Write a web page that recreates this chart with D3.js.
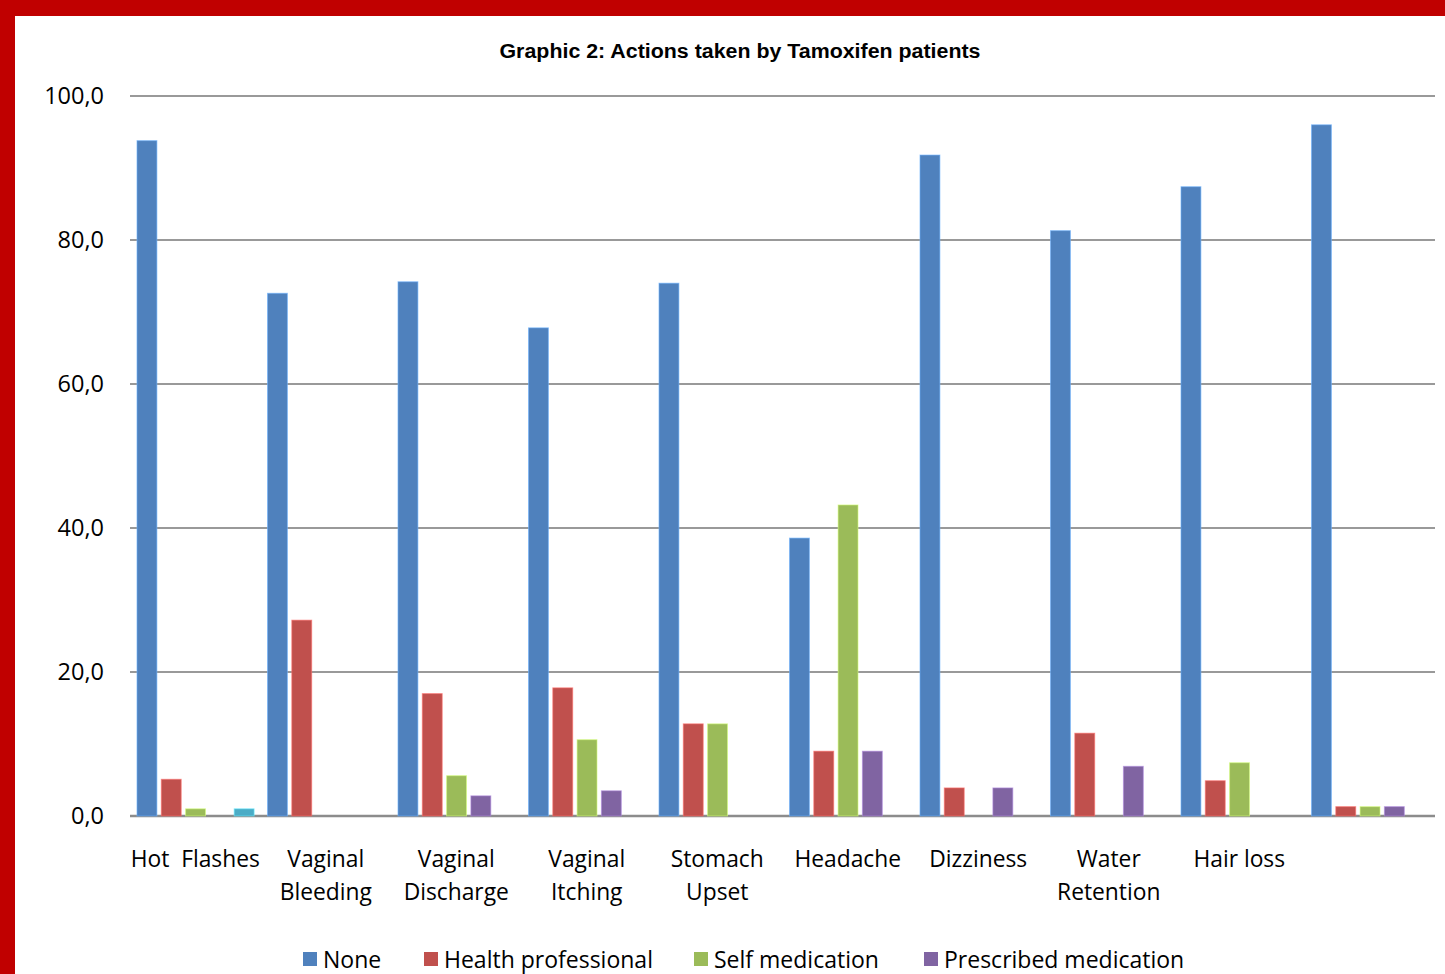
<!DOCTYPE html>
<html>
<head>
<meta charset="utf-8">
<script src="https://cdn.jsdelivr.net/npm/d3@7"></script>
<style>
  html, body { margin: 0; padding: 0; background: #fff; }
  svg { display: block; }
</style>
</head>
<body>
<svg id="chart" width="1445" height="974"></svg>
<script>
const categories = [
  ["Hot  Flashes"],
  ["Vaginal", "Bleeding"],
  ["Vaginal", "Discharge"],
  ["Vaginal", "Itching"],
  ["Stomach", "Upset"],
  ["Headache"],
  ["Dizziness"],
  ["Water", "Retention"],
  ["Hair loss"],
  [""]
];
const seriesNames = ["None", "Health professional", "Self medication", "Prescribed medication", ""];
const seriesColors = ["#4F81BD", "#C0504D", "#9BBB59", "#8064A2", "#4BACC6"];
const noneValues        = [93.8, 72.6, 74.2, 67.8, 74.0, 38.6, 91.8, 81.3, 87.4, 96.0];
const healthProfValues  = [5.1, 27.2, 17.0, 17.8, 12.8, 9.0, 3.9, 11.5, 4.9, 1.3];
const selfMedValues     = [1.0, 0, 5.6, 10.6, 12.8, 43.2, 0, 0, 7.4, 1.3];
const prescribedValues  = [0, 0, 2.8, 3.5, 0, 9.0, 3.9, 6.9, 0, 1.3];
const otherValues       = [1.0, 0, 0, 0, 0, 0, 0, 0, 0, 0];
const yTicks = [0, 20, 40, 60, 80, 100];
const title = "Graphic 2: Actions taken by Tamoxifen patients";

const seriesValues = [noneValues, healthProfValues, selfMedValues, prescribedValues, otherValues];

const svg = d3.select("#chart");

// red frame
svg.append("rect").attr("x", 0).attr("y", 0).attr("width", 1445).attr("height", 16).attr("fill", "#C00000");
svg.append("rect").attr("x", 0).attr("y", 0).attr("width", 15).attr("height", 974).attr("fill", "#C00000");

const x0 = d3.scaleBand().domain(d3.range(categories.length)).range([130, 1435]).paddingInner(0).paddingOuter(0);
const x1 = d3.scaleBand().domain(d3.range(seriesNames.length)).range([4.8, 126.3]).paddingInner(0.18).paddingOuter(0.09);
const y = d3.scaleLinear().domain([0, 100]).range([816, 96]);

// title
svg.append("text")
  .attr("x", 740).attr("y", 58)
  .attr("text-anchor", "middle")
  .attr("font-family", "Liberation Sans, Arial, sans-serif")
  .attr("font-weight", "bold")
  .attr("font-size", 19.5)
  .attr("textLength", 481).attr("lengthAdjust", "spacingAndGlyphs")
  .attr("fill", "#000")
  .text(title);

// gridlines
const grid = svg.append("g");
grid.selectAll("line").data(yTicks).join("line")
  .attr("x1", 130).attr("x2", 1435)
  .attr("y1", d => y(d)).attr("y2", d => y(d))
  .attr("stroke", d => d === 0 ? "#8c8c8c" : "#999")
  .attr("stroke-width", d => d === 0 ? 2.5 : 2);

// y axis labels
const yAxis = d3.axisLeft(y).tickValues(yTicks).tickSize(0).tickPadding(0)
  .tickFormat(d => d3.format(".1f")(d).replace(".", ","));
const yg = svg.append("g").attr("transform", "translate(104,0)").call(yAxis);
yg.select(".domain").remove();
yg.selectAll("text")
  .attr("font-family", "Open Sans, sans-serif")
  .attr("font-size", 23.5)
  .attr("fill", "#000")
  .attr("dy", "0.3em");

// bars
const groups = svg.append("g").selectAll("g").data(categories).join("g")
  .attr("transform", (d, i) => `translate(${x0(i)},0)`);
groups.selectAll("rect")
  .data((d, i) => seriesValues.map((vals, s) => ({ s, v: vals[i] })).filter(o => o.v > 0))
  .join("rect")
  .attr("x", d => x1(d.s))
  .attr("width", x1.bandwidth())
  .attr("y", d => y(d.v))
  .attr("height", d => y(0) - y(d.v))
  .attr("fill", d => seriesColors[d.s])
  .attr("stroke", d => d3.color(seriesColors[d.s]).brighter(0.9))
  .attr("stroke-opacity", 0.6)
  .attr("stroke-width", 1);

// x labels
const xl = svg.append("g");
categories.forEach((lines, i) => {
  const t = xl.append("text")
    .attr("x", x0(i) + x0.bandwidth() / 2)
    .attr("y", 867)
    .attr("text-anchor", "middle")
    .attr("font-family", "Open Sans, sans-serif")
    .attr("font-size", 22.8)
    .attr("fill", "#000")
    .style("white-space", "pre");
  lines.forEach((ln, k) => {
    t.append("tspan").attr("x", x0(i) + x0.bandwidth() / 2).attr("y", 867 + k * 33).text(ln);
  });
});

// legend
const legendItems = [
  { s: 0, sq: 303 },
  { s: 1, sq: 424 },
  { s: 2, sq: 694 },
  { s: 3, sq: 924 }
];
const lg = svg.append("g");
legendItems.forEach(it => {
  lg.append("rect").attr("x", it.sq).attr("y", 952).attr("width", 14).attr("height", 14)
    .attr("fill", seriesColors[it.s]);
  lg.append("text").attr("x", it.sq + 20).attr("y", 968)
    .attr("font-family", "Open Sans, sans-serif")
    .attr("font-size", 23)
    .attr("fill", "#000")
    .text(seriesNames[it.s]);
});
</script>
</body>
</html>
